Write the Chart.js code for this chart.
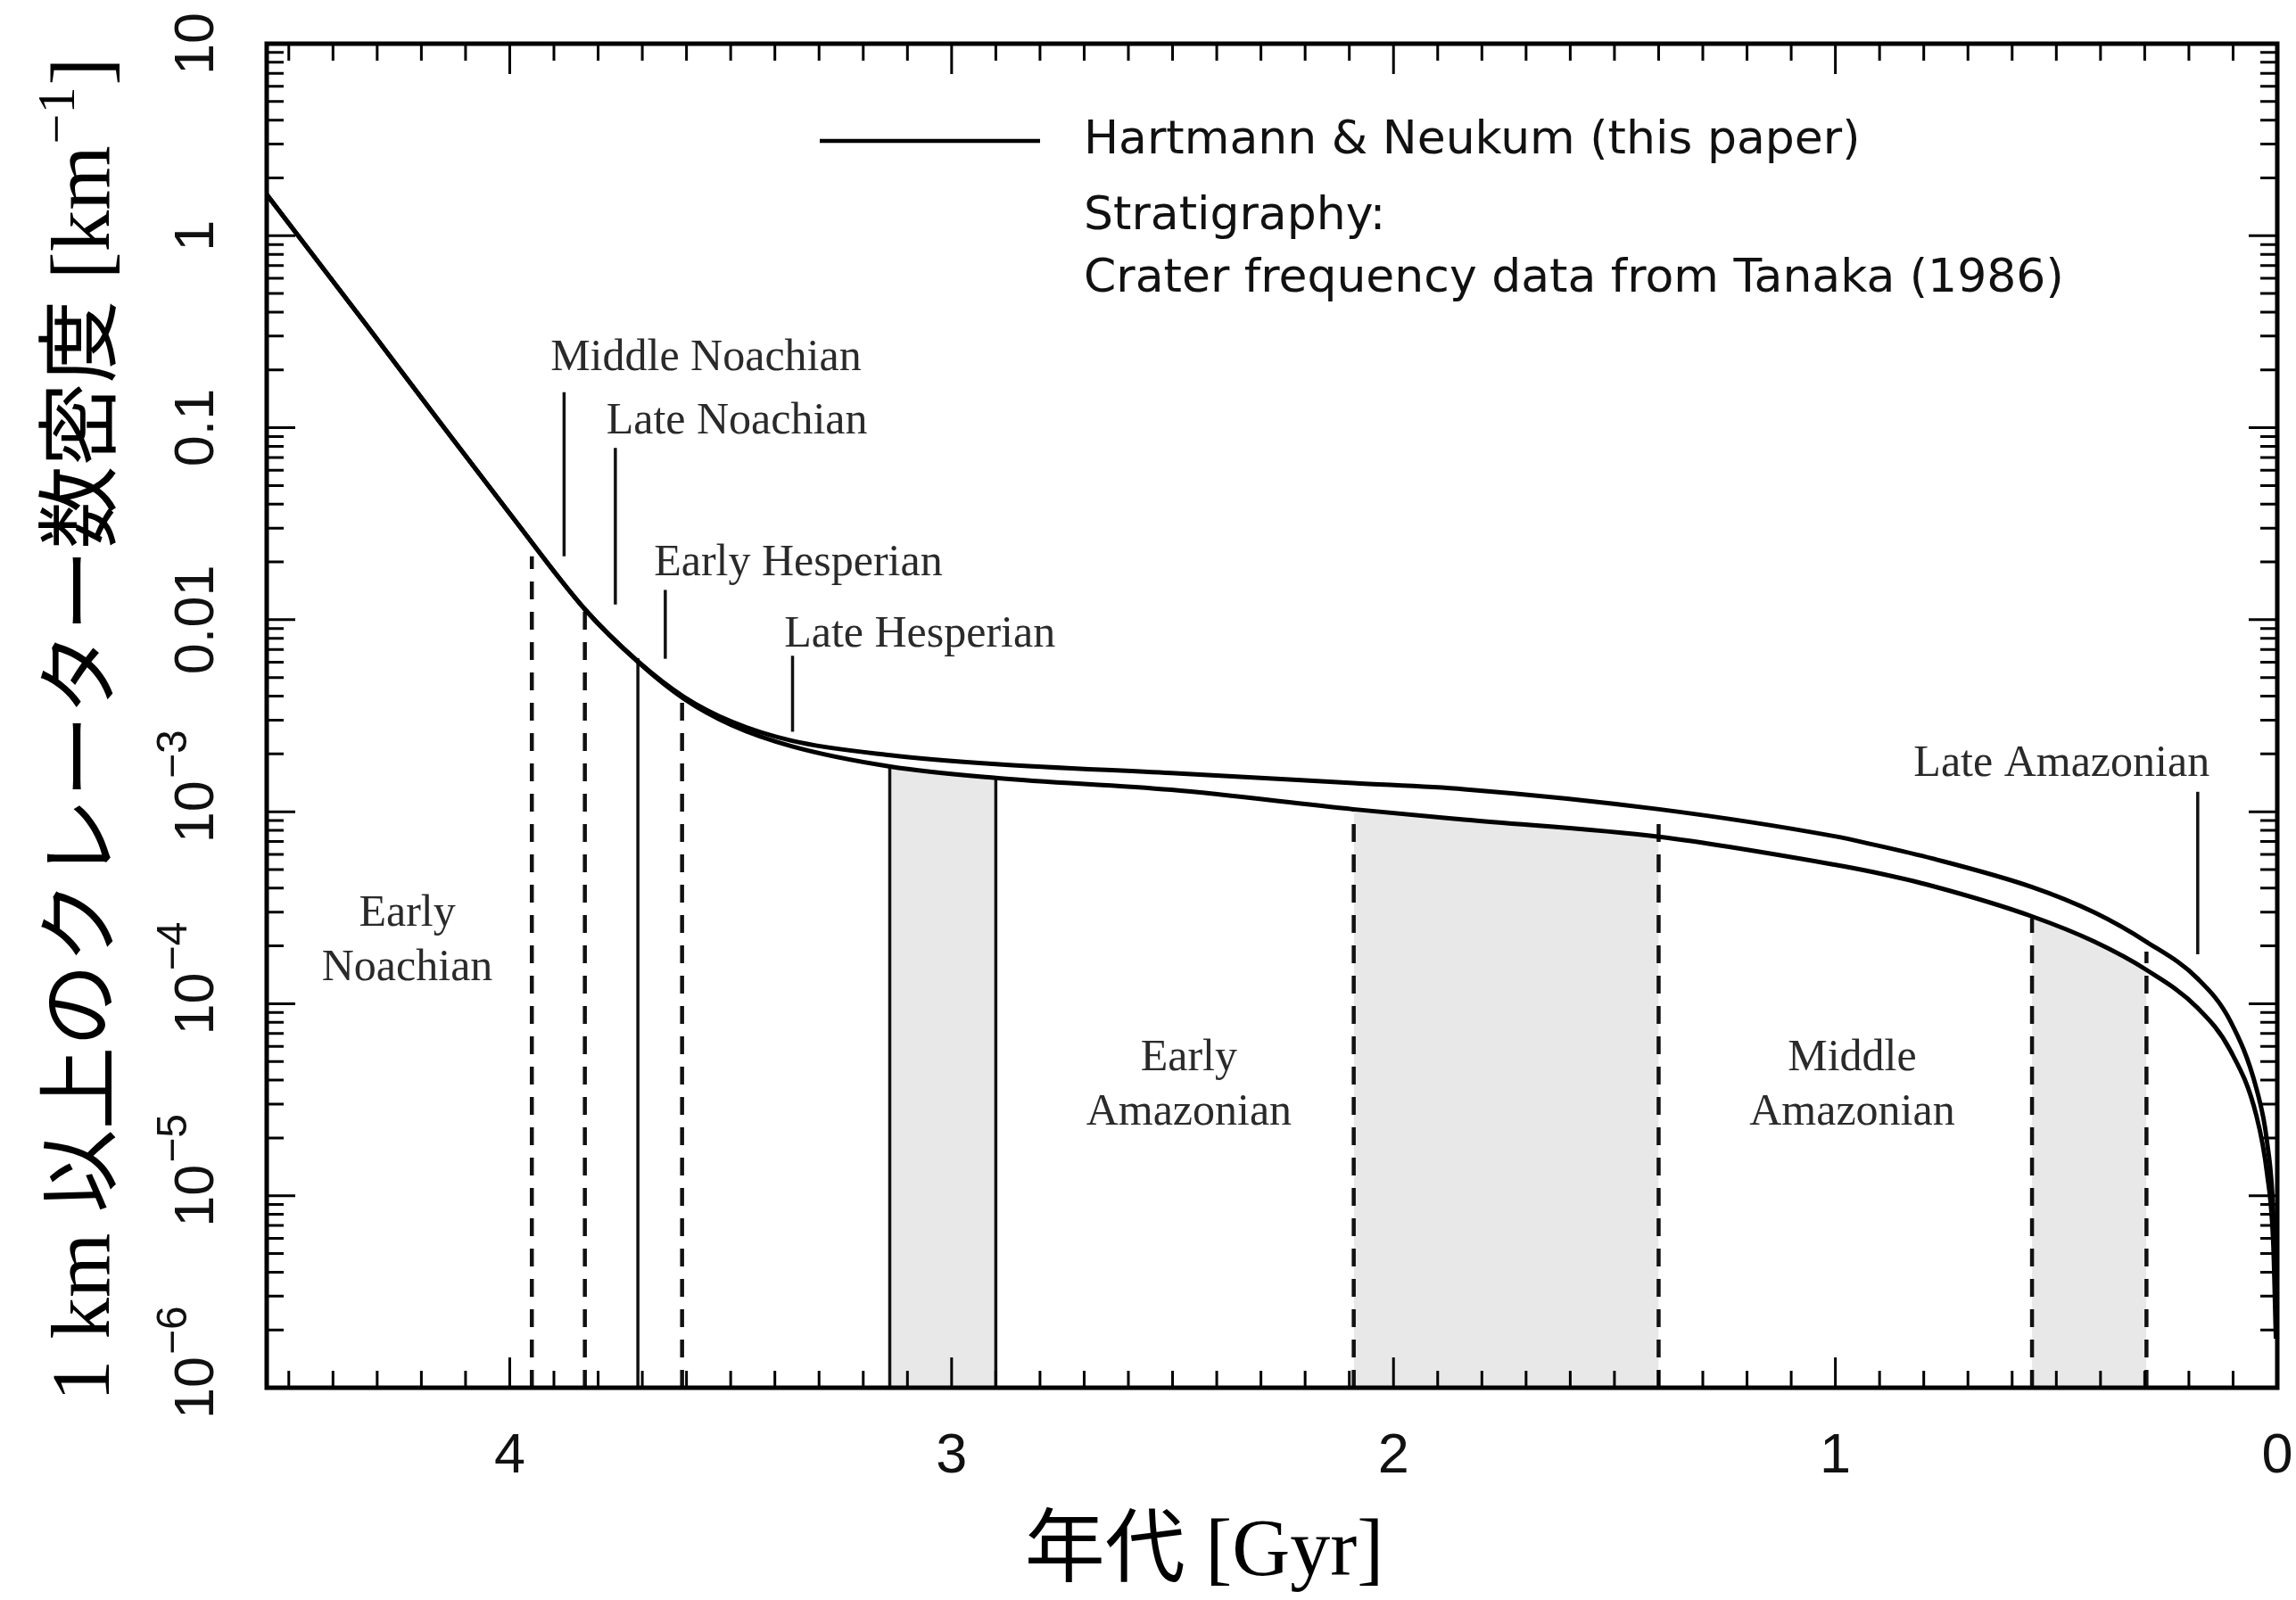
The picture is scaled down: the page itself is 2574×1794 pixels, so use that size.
<!DOCTYPE html>
<html><head><meta charset="utf-8">
<script src="https://cdn.jsdelivr.net/npm/chart.js@4.4.1/dist/chart.umd.min.js"></script>
<style>html,body{margin:0;padding:0;background:#fff}canvas{display:block}</style>
</head><body>
<canvas id="c" width="2574" height="1794"></canvas>
<script>
// ---------------- data ----------------
const curveAges = [4.55, 4.325, 4.159, 3.997, 3.828, 3.709, 3.606, 3.497, 3.361, 3.139, 2.900, 2.503, 2.091, 1.840, 1.399, 1.002, 0.915, 0.780, 0.555, 0.413, 0.296, 0.180, 0.106, 0.047, 0.023, 0.009, 0.003];
const upperDensity = [1.64, 0.344, 0.1076, 0.035, 0.0112, 0.00605, 0.00397, 0.00294, 0.00234, 0.00197, 0.00177, 0.00159, 0.00141, 0.00131, 0.00103, 7.45e-4, 6.75e-4, 5.7e-4, 4.05e-4, 2.98e-4, 2.1e-4, 1.35e-4, 8.1e-5, 3.6e-5, 1.9e-5, 8.0e-6, 2.5e-6];
const lowerDensity = [1.64, 0.344, 0.1076, 0.035, 0.0112, 0.00600, 0.00388, 0.00282, 0.00219, 0.00172, 0.00150, 0.00130, 0.00103, 9.1e-4, 7.4e-4, 5.3e-4, 4.85e-4, 4.1e-4, 2.85e-4, 2.1e-4, 1.5e-4, 9.5e-5, 5.7e-5, 2.6e-5, 1.3e-5, 5.6e-6, 1.8e-6];

const boundaryAges = [3.95, 3.83, 3.71, 3.61, 3.14, 2.90, 2.09, 1.40, 0.555, 0.296];
const boundaryTops = [0.0214, 0.0116, 0.0063, 0.0039, 0.00172, 0.00150, 0.00103, 0.00100, 2.8e-4, 1.87e-4];
const boundaryDashed = [true, true, false, true, false, false, true, true, true, true];

const bandStartAges = [3.14, 2.09, 0.555];
const bandEndAges = [2.90, 1.40, 0.296];
const bandTopStart = [0.00172, 0.00103, 2.85e-4];
const bandTopEnd = [0.00150, 7.4e-4, 1.5e-4];

const pointerAges = [3.877, 3.761, 3.648, 3.360, 0.180];
const pointerLow = [0.0214, 0.0120, 0.00626, 0.00261, 1.81e-4];
const pointerHigh = [0.153, 0.0785, 0.0143, 0.00649, 0.00127];

const periodNames = ['Middle Noachian', 'Late Noachian', 'Early Hesperian', 'Late Hesperian', 'Late Amazonian', 'Early Noachian', 'Early Amazonian', 'Middle Amazonian'];

const xTickValues = [4, 3, 2, 1, 0];
const xTickLabels = ['4', '3', '2', '1', '0'];
const yTickValues = [1e-6, 1e-5, 1e-4, 1e-3, 0.01, 0.1, 1, 10];
const yTickLabels = ['10^-6', '10^-5', '10^-4', '10^-3', '0.01', '0.1', '1', '10'];

const legendLines = ['Hartmann & Neukum (this paper)', 'Stratigraphy:', 'Crater frequency data from Tanaka (1986)'];
const xTitle = '年代 [Gyr]';
const yTitleMain = '1 km 以上のクレーター数密度 [km';
const yTitleSup = '−1';
const yTitleEnd = ']';

// ---------------- layout (positions in data units) ----------------
const labelLayout = {
  'Middle Noachian': {age: 3.556, n: 0.229, lines: ['Middle Noachian']},
  'Late Noachian': {age: 3.486, n: 0.1076, lines: ['Late Noachian']},
  'Early Hesperian': {age: 3.347, n: 0.0196, lines: ['Early Hesperian']},
  'Late Hesperian': {age: 3.072, n: 0.0083, lines: ['Late Hesperian']},
  'Late Amazonian': {age: 0.488, n: 0.00177, lines: ['Late Amazonian']},
  'Early Noachian': {age: 4.232, n: 2.12e-4, lines: ['Early', 'Noachian']},
  'Early Amazonian': {age: 2.463, n: 3.76e-5, lines: ['Early', 'Amazonian']},
  'Middle Amazonian': {age: 0.962, n: 3.76e-5, lines: ['Middle', 'Amazonian']}
};

const SERIF = '"Liberation Serif", "Times New Roman", "Noto Sans CJK JP", serif';
const SANS = '"Liberation Sans", Arial, sans-serif';
const LEGEND_FONT = '"DejaVu Sans", sans-serif';

// ---------------- datasets ----------------
const datasets = [];
datasets.push({
  label: 'upper', data: curveAges.map((a, i) => ({x: a, y: upperDensity[i]})),
  borderColor: '#000', borderWidth: 5, pointRadius: 0, fill: false,
  cubicInterpolationMode: 'monotone', order: 0
});
datasets.push({
  label: 'lower', data: curveAges.map((a, i) => ({x: a, y: lowerDensity[i]})),
  borderColor: '#000', borderWidth: 5, pointRadius: 0, fill: false,
  cubicInterpolationMode: 'monotone', order: 0
});
boundaryAges.forEach((a, i) => {
  datasets.push({
    label: 'b' + i, data: [{x: a, y: 1e-6}, {x: a, y: boundaryTops[i]}],
    borderColor: '#111', borderWidth: boundaryDashed[i] ? 4.5 : 3.5, borderDash: boundaryDashed[i] ? [20, 14] : [],
    pointRadius: 0, fill: false, tension: 0, order: 1
  });
});
pointerAges.forEach((a, i) => {
  datasets.push({
    label: 'p' + i, data: [{x: a, y: pointerLow[i]}, {x: a, y: pointerHigh[i]}],
    borderColor: '#111', borderWidth: 3.5, pointRadius: 0, fill: false, tension: 0, order: 1
  });
});
bandStartAges.forEach((s, i) => {
  const e = bandEndAges[i];
  const pts = [{x: s, y: bandTopStart[i]}];
  curveAges.forEach((a, j) => { if (a < s && a > e) pts.push({x: a, y: lowerDensity[j]}); });
  pts.push({x: e, y: bandTopEnd[i]});
  datasets.push({
    label: 'band' + i, data: pts, borderWidth: 0, borderColor: 'rgba(0,0,0,0)',
    backgroundColor: '#e8e8e8', fill: 'start', pointRadius: 0, tension: 0, order: 3
  });
});

// ---------------- decoration plugin ----------------
function drawYTickLabel(ctx, label, cx, cy) {
  ctx.save();
  ctx.translate(cx, cy);
  ctx.rotate(-Math.PI / 2);
  ctx.fillStyle = '#111';
  ctx.textBaseline = 'middle';
  ctx.textAlign = 'left';
  const parts = label.split('^');
  ctx.font = '63px ' + SANS;
  const bw = ctx.measureText(parts[0]).width;
  ctx.fillText(parts[0], -bw / 2, 0);
  if (parts.length > 1) {
    ctx.font = '48px ' + SANS;
    ctx.fillText(parts[1].replace('-', '−'), bw / 2 + 2, -26);
  }
  ctx.restore();
}

const decor = {
  id: 'decor',
  beforeDraw(chart) {
    const c = chart.ctx;
    c.save(); c.fillStyle = '#fff'; c.fillRect(0, 0, chart.width, chart.height); c.restore();
  },
  afterDatasetsDraw(chart) {
    const c = chart.ctx;
    const xs = chart.scales.x, ys = chart.scales.y;
    const {left, right, top, bottom} = chart.chartArea;
    c.save();
    // ticks
    c.strokeStyle = '#000';
    c.lineWidth = 3;
    c.beginPath();
    for (let k = 0; k <= 45; k++) {
      const v = k / 10;
      const px = xs.getPixelForValue(v);
      const len = (k % 10 === 0) ? 34 : 19;
      c.moveTo(px, bottom); c.lineTo(px, bottom - len);
      c.moveTo(px, top); c.lineTo(px, top + len);
    }
    yTickValues.forEach((d, i) => {
      const py = ys.getPixelForValue(d);
      c.moveTo(left, py); c.lineTo(left + 32, py);
      c.moveTo(right, py); c.lineTo(right - 32, py);
      if (i < yTickValues.length - 1) {
        for (let m = 2; m <= 9; m++) {
          const pm = ys.getPixelForValue(d * m);
          c.moveTo(left, pm); c.lineTo(left + 19, pm);
          c.moveTo(right, pm); c.lineTo(right - 19, pm);
        }
      }
    });
    c.stroke();
    // frame
    c.lineWidth = 5;
    c.strokeRect(left, top, right - left, bottom - top);

    // x tick labels
    c.fillStyle = '#111';
    c.font = '63px ' + SANS;
    c.textAlign = 'center';
    c.textBaseline = 'middle';
    xTickValues.forEach((v, i) => {
      c.fillText(xTickLabels[i], xs.getPixelForValue(v), bottom + 78);
    });
    // y tick labels
    yTickValues.forEach((v, i) => {
      drawYTickLabel(c, yTickLabels[i], left - 77, ys.getPixelForValue(v));
    });

    // period labels
    c.fillStyle = '#2a2a2a';
    c.font = '50px ' + SERIF;
    c.textAlign = 'center';
    c.textBaseline = 'middle';
    periodNames.forEach(name => {
      const L = labelLayout[name];
      const px = xs.getPixelForValue(L.age), py = ys.getPixelForValue(L.n);
      const n = L.lines.length;
      L.lines.forEach((t, j) => c.fillText(t, px, py + (j - (n - 1) / 2) * 61));
    });

    // legend
    c.strokeStyle = '#000';
    c.lineWidth = 4.5;
    c.beginPath(); c.moveTo(919, 158); c.lineTo(1166, 158); c.stroke();
    c.fillStyle = '#111';
    c.font = '52px ' + LEGEND_FONT;
    c.textAlign = 'left';
    c.textBaseline = 'middle';
    c.fillText(legendLines[0], 1215, 158);
    c.fillText(legendLines[1], 1215, 243);
    c.fillText(legendLines[2], 1215, 313);

    // x title
    c.fillStyle = '#000';
    c.font = '90px ' + SERIF;
    c.textAlign = 'center';
    c.textBaseline = 'middle';
    c.fillText(xTitle, 1350, 1742);

    // y title (rotated)
    c.save();
    c.translate(98, 818);
    c.rotate(-Math.PI / 2);
    c.textAlign = 'left';
    c.textBaseline = 'middle';
    const fMain = '93px ' + SERIF, fSup = '60px ' + SERIF;
    c.font = fMain; const w1 = c.measureText(yTitleMain).width; const w3 = c.measureText(yTitleEnd).width;
    c.font = fSup; const w2 = c.measureText(yTitleSup).width;
    let x0 = -(w1 + w2 + w3 + 4) / 2;
    c.font = fMain; c.fillText(yTitleMain, x0, 0); x0 += w1 + 2;
    c.font = fSup; c.fillText(yTitleSup, x0, -31); x0 += w2 + 2;
    c.font = fMain; c.fillText(yTitleEnd, x0, 0);
    c.restore();

    c.restore();
  }
};

new Chart(document.getElementById('c'), {
  type: 'line',
  data: {datasets},
  options: {
    responsive: false,
    animation: false,
    devicePixelRatio: 1,
    events: [],
    layout: {padding: {left: 299, top: 49, right: 21, bottom: 238}},
    scales: {
      x: {type: 'linear', min: 0, max: 4.55, reverse: true, display: false},
      y: {type: 'logarithmic', min: 1e-6, max: 10, display: false}
    },
    plugins: {legend: {display: false}, tooltip: {enabled: false}}
  },
  plugins: [decor]
});
</script>
</body></html>
